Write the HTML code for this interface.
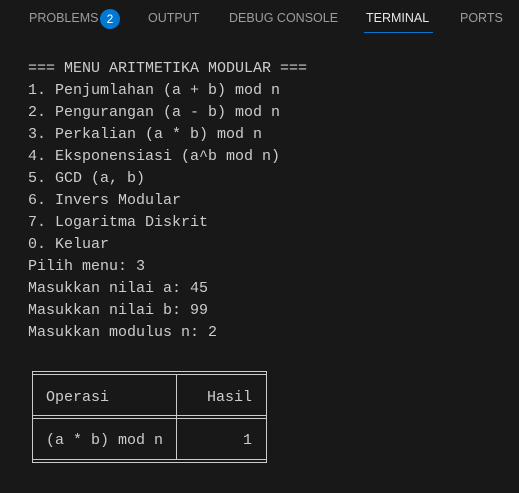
<!DOCTYPE html>
<html><head><style>
body{margin:0;width:519px;height:493px;background:#181818;overflow:hidden;position:relative;font-family:"Liberation Sans",sans-serif}
.tab{position:absolute;top:11px;font-size:12.5px;color:#9d9d9d;letter-spacing:0}
.badge{position:absolute;left:100px;top:9px;width:20px;height:20px;border-radius:50%;background:#0078d4;color:#fff;font-size:12px;text-align:center;line-height:20px}
.term{position:absolute;left:28px;top:58px;font-family:"Liberation Mono",monospace;font-size:15px;line-height:22px;color:#cccccc;white-space:pre}
.h{position:absolute;background:#cccccc;height:1px}
.v{position:absolute;background:#cccccc;width:1px}
.t{position:absolute;font-family:"Liberation Mono",monospace;font-size:15px;color:#cccccc;white-space:pre}
</style></head><body>
<div class="tab" style="left:29px">PROBLEMS</div>
<div class="badge">2</div>
<div class="tab" style="left:148px">OUTPUT</div>
<div class="tab" style="left:229px">DEBUG CONSOLE</div>
<div class="tab" style="left:366px;color:#e7e7e7">TERMINAL</div>
<div style="position:absolute;left:364px;top:32px;width:69px;height:1px;background:#0078d4"></div>
<div class="tab" style="left:460px">PORTS</div>
<div class="term">=== MENU ARITMETIKA MODULAR ===
1. Penjumlahan (a + b) mod n
2. Pengurangan (a - b) mod n
3. Perkalian (a * b) mod n
4. Eksponensiasi (a^b mod n)
5. GCD (a, b)
6. Invers Modular
7. Logaritma Diskrit
0. Keluar
Pilih menu: 3
Masukkan nilai a: 45
Masukkan nilai b: 99
Masukkan modulus n: 2</div>
<div class="h" style="left:32px;top:371px;width:235px"></div>
<div class="h" style="left:33px;top:374px;width:233px"></div>
<div class="h" style="left:33px;top:415px;width:233px"></div>
<div class="h" style="left:33px;top:418px;width:233px"></div>
<div class="h" style="left:33px;top:459px;width:233px"></div>
<div class="h" style="left:32px;top:462px;width:235px"></div>
<div class="v" style="left:32px;top:371px;height:92px"></div>
<div class="v" style="left:266px;top:371px;height:92px"></div>
<div class="v" style="left:176px;top:374px;height:86px"></div>
<div class="t" style="left:46px;top:389px">Operasi</div>
<div class="t" style="left:207px;top:389px">Hasil</div>
<div class="t" style="left:46px;top:432px">(a * b) mod n</div>
<div class="t" style="left:243px;top:432px">1</div>
</body></html>
